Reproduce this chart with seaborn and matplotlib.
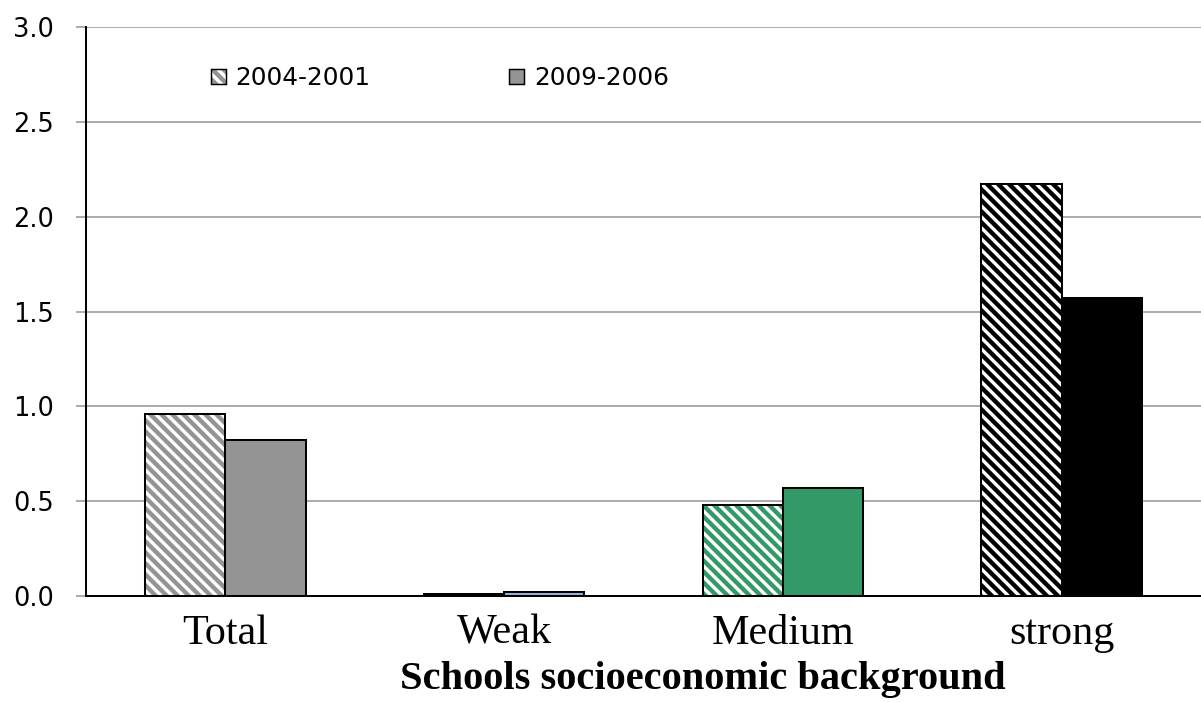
import matplotlib
matplotlib.use("Agg")
import matplotlib.pyplot as plt
import matplotlib.patches as mpatches
from matplotlib.colors import to_rgba
import pandas as pd
import seaborn as sns

# Data
categories = ["Total", "Weak", "Medium", "strong"]
periods = ["2004-2001", "2009-2006"]
values_2004_2001 = [0.96, 0.01, 0.48, 2.17]
values_2009_2006 = [0.82, 0.02, 0.57, 1.57]

# Colours per category (hatch colour for the first period, fill for the second)
category_colors = ["#949494", "#8DB4E2", "#339966", "#000000"]
hatch_colors = ["#949494", "#000000", "#339966", "#000000"]

df = pd.DataFrame({
    "category": categories * 2,
    "period": [periods[0]] * 4 + [periods[1]] * 4,
    "value": values_2004_2001 + values_2009_2006,
})

sns.set_theme(style="white")
plt.rcParams["hatch.linewidth"] = 2.4
plt.rcParams["text.color"] = "black"
plt.rcParams["axes.labelcolor"] = "black"

DPI = 132
fig = plt.figure(figsize=(1201 / DPI, 702 / DPI), dpi=DPI)
ax = fig.add_axes([86 / 1201, 1 - 596 / 702, 1 - 86 / 1201, (596 - 27) / 702])

sns.barplot(data=df, x="category", y="value", hue="period", order=categories,
            hue_order=periods, width=0.575, ax=ax, legend=False,
            palette=["#ffffff", "#ffffff"], saturation=1)


def set_hatch_color(patch, color):
    if hasattr(patch, "set_hatchcolor"):
        patch.set_hatchcolor(color)
    else:
        patch._hatch_color = to_rgba(color)


HATCH = "\\\\\\\\"

# First period: white bars with coloured diagonal hatching
for j, bar in enumerate(ax.containers[0]):
    bar.set_facecolor("white")
    bar.set_edgecolor("black")
    bar.set_linewidth(1.1)
    bar.set_hatch(HATCH)
    set_hatch_color(bar, hatch_colors[j])

# Second period: solid coloured bars
for j, bar in enumerate(ax.containers[1]):
    bar.set_facecolor(category_colors[j])
    bar.set_edgecolor("black")
    bar.set_linewidth(1.1)

ax.set_ylim(0, 3.0)
ax.set_xlim(-0.5, 3.5)
ax.set_yticks([0, 0.5, 1.0, 1.5, 2.0, 2.5, 3.0])
ax.set_yticklabels(["0.0", "0.5", "1.0", "1.5", "2.0", "2.5", "3.0"],
                   fontfamily="DejaVu Sans", fontsize=14)
ax.set_xticks(range(len(categories)))
ax.set_xticklabels(categories, fontfamily="Liberation Serif", fontsize=23)

ax.yaxis.grid(True, color="#a6a6a6", linewidth=1.0)
ax.set_axisbelow(True)
ax.tick_params(axis="y", which="major", direction="out", length=5.5,
               width=1.0, color="#a6a6a6", pad=12, left=True, labelcolor="black")
ax.tick_params(axis="x", length=0, pad=10, labelcolor="black")

for side in ["top", "right"]:
    ax.spines[side].set_visible(False)
for side in ["left", "bottom"]:
    ax.spines[side].set_visible(True)
    ax.spines[side].set_color("black")
    ax.spines[side].set_linewidth(1.1)

ax.set_ylabel("")
ax.set_xlabel("Schools socioeconomic background", fontfamily="Liberation Serif",
              fontsize=22, fontweight="bold", color="black")
ax.xaxis.set_label_coords(0.553, -0.114, transform=ax.transAxes)
ax.xaxis.label.set_verticalalignment("top")

# Legend
h1 = mpatches.Patch(facecolor="white", edgecolor="black", linewidth=0.8, hatch=HATCH)
set_hatch_color(h1, "#949494")
h2 = mpatches.Patch(facecolor="#949494", edgecolor="black", linewidth=0.8)
leg = ax.legend([h1, h2], periods, ncol=2, loc="upper left",
                bbox_to_anchor=(0.092, 0.97), frameon=False,
                prop={"family": "DejaVu Sans", "size": 13.5},
                handlelength=0.6, handleheight=0.6, handletextpad=0.4,
                columnspacing=5.6)
for t in leg.get_texts():
    t.set_color("black")

fig.savefig("out.png", dpi=DPI, facecolor="white")
